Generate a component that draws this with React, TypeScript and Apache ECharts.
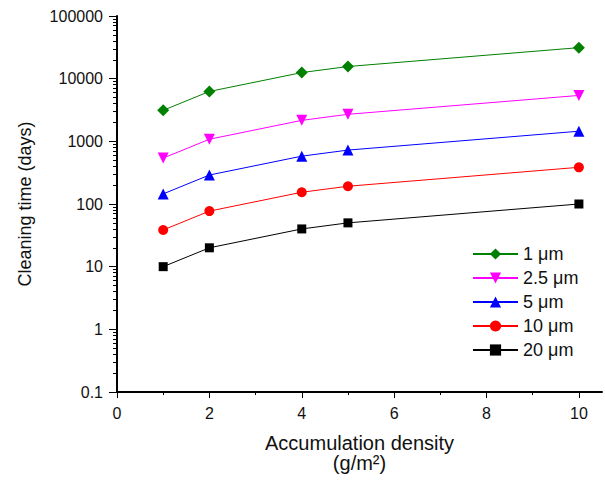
import React, { useEffect, useRef } from "react";
import * as echarts from "echarts";

const density = [1, 2, 4, 5, 10];
const seriesNames = ["1 μm", "2.5 μm", "5 μm", "10 μm", "20 μm"];
const time1 = [3125, 6250, 12500, 15625, 31250];
const time25 = [540, 1080, 2160, 2700, 5400];
const time5 = [145, 290, 580, 725, 1450];
const time10 = [38.5, 77, 154, 192, 385];
const time20 = [10, 20, 40, 50, 100];
const xMajorTicks = [0, 2, 4, 6, 8, 10];
const xMinorTicks = [1, 3, 5, 7, 9];
const yDecades = [0.1, 1, 10, 100, 1000, 10000, 100000];

const FONT = "Liberation Sans, Arial, sans-serif";

export default function App() {
  const ref = useRef<HTMLDivElement>(null);
  useEffect(() => {
    document.body.style.margin = "0";
    if (!ref.current) return;
    const chart = echarts.init(ref.current, null, { renderer: "svg" });
    const minorLog: number[] = [];
    for (let i = 0; i < yDecades.length - 1; i++) {
      for (let k = 2; k <= 9; k++) minorLog.push(Math.log10(yDecades[i] * k));
    }
    const mk = (name: string, data: number[], color: string, symbol: string, size: number) => ({
      name,
      type: "line",
      xAxisIndex: 0,
      yAxisIndex: 0,
      data: density.map((d, i) => [d, data[i]]),
      symbol,
      symbolSize: size,
      showSymbol: true,
      lineStyle: { color, width: 1 },
      itemStyle: { color },
      emphasis: { disabled: true },
    });
    const axisLs = () => ({ color: "#000", width: 2, opacity: 1 });
    const tickLs = () => ({ color: "#000", width: 1, opacity: 1 });
    chart.setOption({
      animation: false,
      grid: { left: 117, right: 3, top: 16, bottom: 94, containLabel: false },
      legend: {
        orient: "vertical",
        left: 467,
        top: 240,
        itemWidth: 45,
        itemHeight: 14,
        itemGap: 6,
        data: seriesNames,
        textStyle: { fontFamily: FONT, fontSize: 18, color: "#111" },
      },
      xAxis: [
        {
          type: "value",
          min: 0,
          max: 10.5,
          position: "bottom",
          name: "Accumulation density\n(g/m²)",
          nameLocation: "middle",
          nameGap: 41,
          nameTextStyle: { fontFamily: FONT, fontSize: 20, color: "#111", lineHeight: 20 },
          axisLine: { show: true, onZero: false, lineStyle: axisLs() },
          axisTick: { show: true, inside: false, length: 6, customValues: xMajorTicks, lineStyle: tickLs() },
          axisLabel: { show: true, margin: 13, customValues: xMajorTicks, fontFamily: FONT, fontSize: 16, color: "#111" },
          splitLine: { show: false },
        },
        {
          type: "value",
          min: 0,
          max: 10.5,
          position: "bottom",
          axisLine: { show: false, onZero: false },
          axisTick: { show: true, inside: false, length: 3, customValues: xMinorTicks, lineStyle: tickLs() },
          axisLabel: { show: false },
          splitLine: { show: false },
        },
      ],
      yAxis: [
        {
          type: "log",
          logBase: 10,
          min: 0.1,
          max: 100000,
          position: "left",
          name: "Cleaning time (days)",
          nameLocation: "middle",
          nameGap: 83,
          nameTextStyle: { fontFamily: FONT, fontSize: 18, color: "#111" },
          axisLine: { show: true, onZero: false, lineStyle: axisLs() },
          axisTick: { show: true, inside: false, length: 8, lineStyle: tickLs() },
          axisLabel: {
            show: true,
            margin: 14,
            fontFamily: FONT,
            fontSize: 16,
            color: "#111",
            formatter: (v: number) => String(Number(v.toPrecision(6))),
          },
          splitLine: { show: false },
          minorTick: { show: false },
        },
        {
          type: "value",
          min: -1,
          max: 5,
          position: "left",
          axisLine: { show: false, onZero: false },
          axisTick: { show: true, inside: false, length: 4, customValues: minorLog, lineStyle: tickLs() },
          axisLabel: { show: false },
          splitLine: { show: false },
        },
      ],
      series: [
        mk(seriesNames[0], time1, "#008000", "diamond", 12),
        mk(seriesNames[1], time25, "#ff00ff", "triangle", 11),
        mk(seriesNames[2], time5, "#0000ff", "triangle", 11),
        mk(seriesNames[3], time10, "#ff0000", "circle", 10),
        mk(seriesNames[4], time20, "#000000", "rect", 9),
      ].map((s, i) => (i === 1 ? { ...s, symbolRotate: 180 } : s)),
    });
    return () => chart.dispose();
  }, []);
  return <div ref={ref} style={{ width: 605, height: 486 }} />;
}
